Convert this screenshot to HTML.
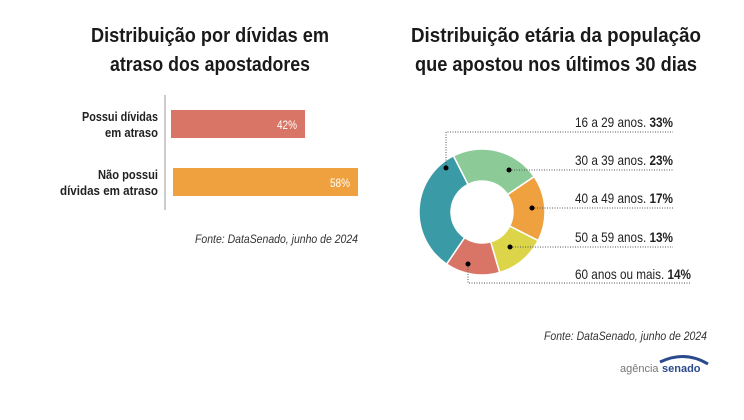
<!DOCTYPE html>
<html><head><meta charset="utf-8"><style>
body{margin:0;width:744px;height:420px;background:#fff;overflow:hidden;font-family:"Liberation Sans",sans-serif}
svg{position:absolute;left:0;top:0}
</style></head><body>
<svg width="744" height="420" viewBox="0 0 744 420" id="s">
<g font-family="Liberation Sans, sans-serif" font-weight="bold" fill="#1a1a1a" font-size="20" text-anchor="middle">
<text x="210" y="42" textLength="238" lengthAdjust="spacingAndGlyphs">Distribuição por dívidas em</text>
<text x="210" y="71" textLength="200" lengthAdjust="spacingAndGlyphs">atraso dos apostadores</text>
<text x="556" y="42" textLength="290" lengthAdjust="spacingAndGlyphs">Distribuição etária da população</text>
<text x="556" y="71" textLength="282" lengthAdjust="spacingAndGlyphs">que apostou nos últimos 30 dias</text>
</g>
<line x1="165" y1="95" x2="165" y2="210" stroke="#999" stroke-width="1"/>
<rect x="171" y="110" width="134" height="28" fill="#d87566"/>
<rect x="173" y="168" width="185" height="28" fill="#f0a13f"/>
<g font-size="13" font-weight="bold" fill="#222" text-anchor="end">
<text x="158" y="121" textLength="76" lengthAdjust="spacingAndGlyphs">Possui dívidas</text>
<text x="158" y="137" textLength="53" lengthAdjust="spacingAndGlyphs">em atraso</text>
<text x="158" y="179" textLength="60" lengthAdjust="spacingAndGlyphs">Não possui</text>
<text x="158" y="195" textLength="98" lengthAdjust="spacingAndGlyphs">dívidas em atraso</text>
</g>
<g font-size="12" fill="#fff" text-anchor="end">
<text x="297" y="129" textLength="20" lengthAdjust="spacingAndGlyphs">42%</text><text x="350" y="187" textLength="20" lengthAdjust="spacingAndGlyphs">58%</text>
</g>
<text x="358" y="243" font-size="12" font-style="italic" fill="#333" text-anchor="end" textLength="163" lengthAdjust="spacingAndGlyphs">Fonte: DataSenado, junho de 2024</text>
<text x="707" y="340" font-size="12" font-style="italic" fill="#333" text-anchor="end" textLength="163" lengthAdjust="spacingAndGlyphs">Fonte: DataSenado, junho de 2024</text>
<text x="620" y="372" font-size="11" fill="#777">agência</text><text x="662" y="372" font-size="11" font-weight="bold" fill="#2b4a8c">senado</text>
<path d="M660 362 Q685 350 708 364" stroke="#2b4a8c" stroke-width="3" fill="none"/>
<g id="donut"></g>
<g stroke="#555" stroke-width="1" stroke-dasharray="1,1.5" fill="none">
<polyline points="446,168 446,132 673,132"/>
<line x1="509" y1="170" x2="673" y2="170"/>
<line x1="532" y1="208" x2="673" y2="208"/>
<line x1="510" y1="247" x2="673" y2="247"/>
<polyline points="468,264 468,283 690,283"/>
</g>
<g fill="#000"><circle cx="446" cy="168" r="2.5"/><circle cx="509" cy="170" r="2.5"/><circle cx="532" cy="208" r="2.5"/><circle cx="510" cy="247" r="2.5"/><circle cx="468" cy="264" r="2.5"/></g>
<g font-size="14" fill="#222" text-anchor="end">
<text x="673" y="127" textLength="98" lengthAdjust="spacingAndGlyphs">16 a 29 anos. <tspan font-weight="bold">33%</tspan></text>
<text x="673" y="165" textLength="98" lengthAdjust="spacingAndGlyphs">30 a 39 anos. <tspan font-weight="bold">23%</tspan></text>
<text x="673" y="203" textLength="98" lengthAdjust="spacingAndGlyphs">40 a 49 anos. <tspan font-weight="bold">17%</tspan></text>
<text x="673" y="242" textLength="98" lengthAdjust="spacingAndGlyphs">50 a 59 anos. <tspan font-weight="bold">13%</tspan></text>
<text x="691" y="279" textLength="116" lengthAdjust="spacingAndGlyphs">60 anos ou mais. <tspan font-weight="bold">14%</tspan></text>
</g>
</svg>
<script>
var cx=482,cy=212,R=63,r=31,a=-27,g=document.getElementById('donut'),h='';
[[23,'#8ccb98'],[17,'#f0a13f'],[13,'#dcd54a'],[14,'#d87566'],[33,'#3a9aa5']].forEach(function(s){
var b=a+s[0]*3.6;function p(rr,d){var t=d*Math.PI/180;return (cx+rr*Math.sin(t)).toFixed(2)+' '+(cy-rr*Math.cos(t)).toFixed(2);}
var l=s[0]*3.6>180?1:0;
h+='<path d="M'+p(R,a)+' A'+R+' '+R+' 0 '+l+' 1 '+p(R,b)+' L'+p(r,b)+' A'+r+' '+r+' 0 '+l+' 0 '+p(r,a)+'Z" fill="'+s[1]+'" stroke="#fff" stroke-width="1.5"/>';a=b;});
g.innerHTML=h;
</script>
</body></html>
